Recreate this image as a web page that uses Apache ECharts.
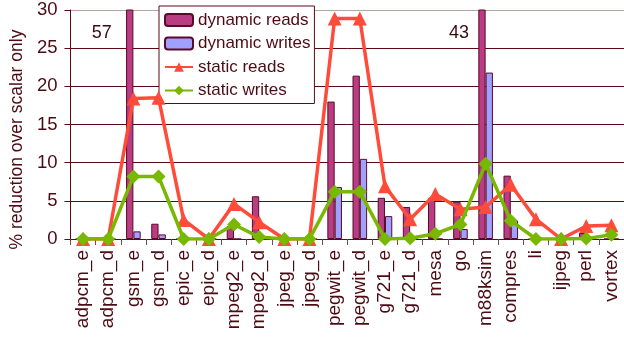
<!DOCTYPE html>
<html>
<head>
<meta charset="utf-8">
<script src="https://cdn.jsdelivr.net/npm/echarts@6/dist/echarts.min.js"></script>
<style>
html,body{margin:0;padding:0;background:#fff;}
#c{width:624px;height:341px;}
</style>
</head>
<body>
<div id="c"></div>
<script>
var categories = ['adpcm_e','adpcm_d','gsm_e','gsm_d','epic_e','epic_d','mpeg2_e','mpeg2_d','jpeg_e','jpeg_d','pegwit_e','pegwit_d','g721_e','g721_d','mesa','go','m88ksim','compres','li','ijpeg','perl','vortex'];
var dynamicReads  = [0,0,57,2.0,0,0,1.7,5.6,0,0,18.0,21.4,5.4,4.2,5.4,4.9,43,8.3,0,0,0.8,0];
var dynamicWrites = [0,0,1.0,0.6,0,0,0,0,0,0,6.8,10.5,3.0,0,0,1.3,21.8,2.4,0,0,0,0];
var staticReads   = [0,0,18.4,18.5,2.5,0,4.6,2.2,0,0,28.9,28.9,6.9,2.6,5.9,3.9,4.2,7.1,2.6,0,1.7,1.8];
var staticWrites  = [0,0,8.2,8.2,0,0,1.9,0.25,0,0,6.2,6.2,0,0.1,0.7,1.9,9.85,2.4,0,0,0.05,0.55];
var yTicks = [0,5,10,15,20,25,30];
var seriesNames = ['dynamic reads','dynamic writes','static reads','static writes'];
var clippedLabels = [{cat:'gsm_e', value:57, dx:-28}, {cat:'m88ksim', value:43, dx:-23}];

var txt = '#4d0a14';
var font = '"Liberation Sans", Arial, sans-serif';
var chart = echarts.init(document.getElementById('c'), null, {renderer:'canvas'});
var yMax = yTicks[yTicks.length-1];
chart.setOption({
  animation:false,
  backgroundColor:'#fff',
  textStyle:{fontFamily:font},
  grid:{left:64, right:-3, top:10, bottom:102, containLabel:false},
  legend:{
    orient:'vertical', left:159, top:6,
    backgroundColor:'#fff', borderColor:'#5a0a14', borderWidth:1,
    padding:[4,4,3,5], itemGap:3.5, itemWidth:28, itemHeight:12,
    textStyle:{fontSize:17, color:txt, fontFamily:font, lineHeight:20},
    data:seriesNames
  },
  xAxis:{
    type:'category', data:categories,
    axisLine:{lineStyle:{color:'#5a0a14', width:1}},
    axisTick:{show:true, alignWithLabel:false, length:6, lineStyle:{color:'#7a4a50'}},
    axisLabel:{rotate:90, interval:0, fontSize:19, color:txt, margin:11, fontFamily:font}
  },
  yAxis:{
    type:'value', min:0, max:yMax, interval:5,
    name:'% reduction over scalar only', nameLocation:'middle', nameGap:40,
    nameTextStyle:{fontSize:17.5, color:txt, fontFamily:font, padding:[0,30,0,0]},
    axisLine:{show:true, lineStyle:{color:'#5a0a14'}},
    axisTick:{show:true, length:6, lineStyle:{color:'#5a0a14'}},
    axisLabel:{fontSize:18.5, color:txt, margin:13, fontFamily:font},
    splitLine:{show:true, lineStyle:{color:['#5a0a14','#5a0a14','#5a0a14','#5a0a14','#5a0a14','#5a0a14','#b0a8a0'], width:1}}
  },
  series:[
    {name:seriesNames[0], type:'bar', data:dynamicReads, barWidth:7.3, barGap:'0%', clip:true,
     itemStyle:{color:'#b83d82', borderColor:'#5a0a28', borderWidth:1},
     markPoint:{symbol:'circle', symbolSize:0, silent:true,
       label:{show:true, fontSize:18, color:'#3a0a10', fontFamily:font},
       data:clippedLabels.map(function(d){return {coord:[d.cat, yMax], value:d.value, label:{offset:[d.dx,23]}};})}
    },
    {name:seriesNames[1], type:'bar', data:dynamicWrites, barWidth:7.3, barGap:'0%', clip:true,
     itemStyle:{color:'#a0a0ff', borderColor:'#5a0a28', borderWidth:1}},
    {name:seriesNames[2], type:'line', data:staticReads, symbol:'triangle', symbolSize:14, z:5,
     lineStyle:{color:'#ff4b3a', width:3.5}, itemStyle:{color:'#ff4b3a'}},
    {name:seriesNames[3], type:'line', data:staticWrites, symbol:'diamond', symbolSize:14, z:6,
     lineStyle:{color:'#78b800', width:3.5}, itemStyle:{color:'#78b800'}}
  ]
});
</script>
</body>
</html>
